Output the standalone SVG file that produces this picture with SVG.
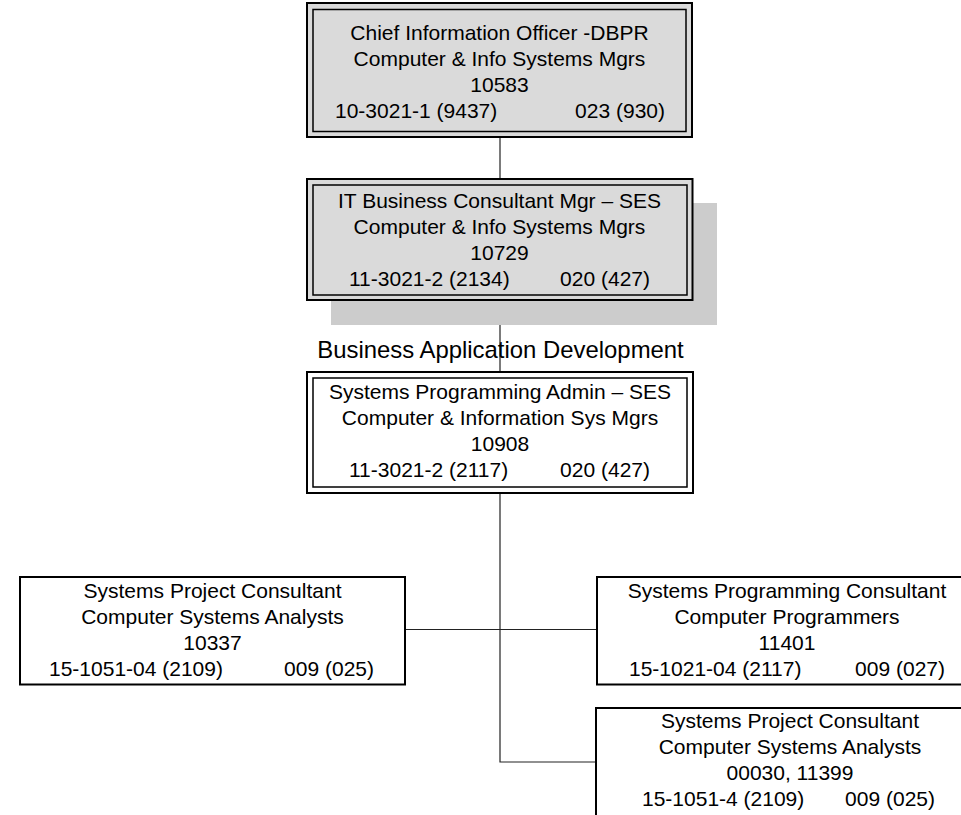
<svg xmlns="http://www.w3.org/2000/svg" width="961" height="815" viewBox="0 0 961 815">
  <style>
    text { font-family: "Liberation Sans", Arial, sans-serif; font-size: 21px; fill: #000; }
    .c { text-anchor: middle; }
    .e { text-anchor: end; }
    .outer { stroke: #000; stroke-width: 2; }
    .inner { fill: none; stroke: #000; stroke-width: 1.5; }
    .grey { fill: #dadada; }
    .white { fill: #fff; }
    .shadow { fill: #cccccc; }
    .single { fill: #fff; stroke: #000; stroke-width: 2; }
    .conn { fill: none; stroke: #222; stroke-width: 1.2; }
    .label { font-size: 23.9px; }
  </style>

  <!-- reporting lines -->
  <g id="connectors">
    <line class="conn" x1="500" y1="137" x2="500" y2="179"/>
    <line class="conn" x1="500" y1="300" x2="500" y2="372"/>
    <polyline class="conn" points="500,493 500,762 596,762"/>
    <line class="conn" x1="405" y1="629.5" x2="597" y2="629.5"/>
  </g>

  <g id="cio">
    <rect class="outer grey" x="307" y="3" width="385" height="134"/>
    <rect class="inner" x="313" y="9.5" width="373" height="122"/>
    <text class="c" x="499.5" y="40">Chief Information Officer -DBPR</text>
    <text class="c" x="499.5" y="66">Computer &amp; Info Systems Mgrs</text>
    <text class="c" x="499.5" y="92">10583</text>
    <text x="335" y="118">10-3021-1 (9437)</text>
    <text class="e" x="665" y="118">023 (930)</text>
  </g>

  <g id="it-business-consultant-mgr">
    <rect class="shadow" x="331" y="203" width="386" height="122"/>
    <rect class="outer grey" x="307" y="179" width="385.5" height="121"/>
    <rect class="inner" x="313" y="185" width="374" height="110"/>
    <text class="c" x="499.5" y="207.5">IT Business Consultant Mgr – SES</text>
    <text class="c" x="499.5" y="233.5">Computer &amp; Info Systems Mgrs</text>
    <text class="c" x="499.5" y="259.5">10729</text>
    <text x="349" y="285.5">11-3021-2 (2134)</text>
    <text class="e" x="650" y="285.5">020 (427)</text>
  </g>

  <text id="section-label" class="c label" x="500.5" y="358">Business Application Development</text>

  <g id="systems-programming-admin">
    <rect class="outer white" x="307" y="372" width="386" height="121"/>
    <rect class="inner" x="313" y="378" width="374" height="109"/>
    <text class="c" x="500" y="398.5">Systems Programming Admin – SES</text>
    <text class="c" x="500" y="424.5">Computer &amp; Information Sys Mgrs</text>
    <text class="c" x="500" y="450.5">10908</text>
    <text x="349" y="476.5">11-3021-2 (2117)</text>
    <text class="e" x="650" y="476.5">020 (427)</text>
  </g>

  <g id="systems-project-consultant-10337">
    <rect class="single" x="20" y="577" width="385" height="107.5"/>
    <text class="c" x="212.5" y="597.5">Systems Project Consultant</text>
    <text class="c" x="212.5" y="623.5">Computer Systems Analysts</text>
    <text class="c" x="212.5" y="649.5">10337</text>
    <text x="49" y="675.5">15-1051-04 (2109)</text>
    <text class="e" x="374" y="675.5">009 (025)</text>
  </g>

  <g id="systems-programming-consultant-11401">
    <rect class="single" x="597" y="577" width="381" height="107.5"/>
    <text class="c" x="787" y="597.5">Systems Programming Consultant</text>
    <text class="c" x="787" y="623.5">Computer Programmers</text>
    <text class="c" x="787" y="649.5">11401</text>
    <text x="629" y="675.5">15-1021-04 (2117)</text>
    <text class="e" x="945" y="675.5">009 (027)</text>
  </g>

  <g id="systems-project-consultant-00030">
    <rect class="single" x="596" y="708" width="388" height="120"/>
    <text class="c" x="790" y="728">Systems Project Consultant</text>
    <text class="c" x="790" y="754">Computer Systems Analysts</text>
    <text class="c" x="790" y="780">00030, 11399</text>
    <text x="642" y="805.5">15-1051-4 (2109)</text>
    <text class="e" x="935" y="805.5">009 (025)</text>
  </g>
</svg>
